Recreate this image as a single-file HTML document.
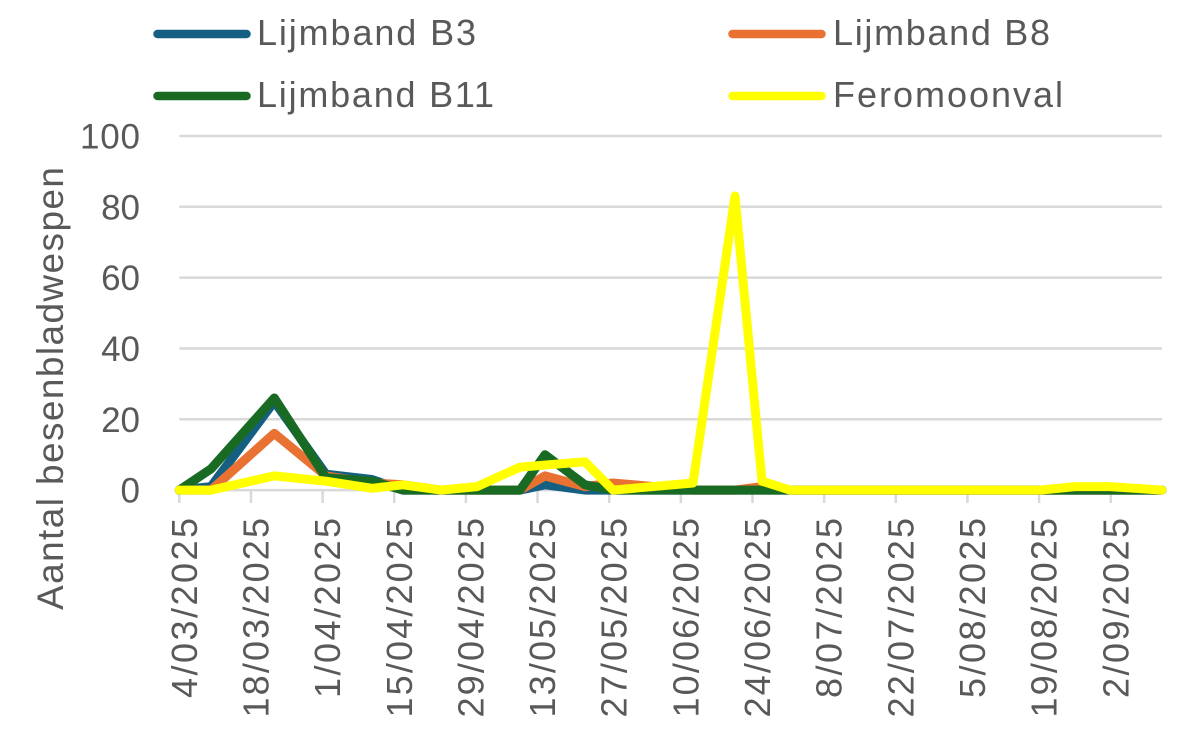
<!DOCTYPE html>
<html>
<head>
<meta charset="utf-8">
<style>
  html, body { margin:0; padding:0; background:#ffffff; }
  svg { display:block; }
  text { font-family: "Liberation Sans", "DejaVu Sans", sans-serif; fill:#595959; }
</style>
</head>
<body>
<svg width="1186" height="733" viewBox="0 0 1186 733" xmlns="http://www.w3.org/2000/svg">
  <rect x="0" y="0" width="1186" height="733" fill="#ffffff"/>

  <!-- Legend -->
  <g stroke-width="8.5" stroke-linecap="round">
    <line x1="157.5" y1="34" x2="246.5" y2="34" stroke="#156082"/>
    <line x1="732.5" y1="34" x2="821.5" y2="34" stroke="#E97132"/>
    <line x1="157.5" y1="96" x2="246.5" y2="96" stroke="#196B24"/>
    <line x1="732.5" y1="96" x2="821.5" y2="96" stroke="#FFFF00"/>
  </g>
  <g font-size="36">
    <text x="257" y="45" textLength="219" lengthAdjust="spacing">Lijmband B3</text>
    <text x="833" y="45" textLength="217" lengthAdjust="spacing">Lijmband B8</text>
    <text x="257" y="107" textLength="237" lengthAdjust="spacing">Lijmband B11</text>
    <text x="833" y="107" textLength="230" lengthAdjust="spacing">Feromoonval</text>
  </g>

  <!-- Gridlines -->
  <g stroke="#D9D9D9" stroke-width="2.5">
    <line x1="179.3" y1="136.0" x2="1162" y2="136.0"/>
    <line x1="179.3" y1="206.8" x2="1162" y2="206.8"/>
    <line x1="179.3" y1="277.6" x2="1162" y2="277.6"/>
    <line x1="179.3" y1="348.5" x2="1162" y2="348.5"/>
    <line x1="179.3" y1="419.3" x2="1162" y2="419.3"/>
    <line x1="179.3" y1="490.1" x2="1162" y2="490.1"/>
    <!-- ticks -->
    <line x1="179.3" y1="490" x2="179.3" y2="503"/>
    <line x1="250.95" y1="490" x2="250.95" y2="503"/>
    <line x1="322.6" y1="490" x2="322.6" y2="503"/>
    <line x1="394.25" y1="490" x2="394.25" y2="503"/>
    <line x1="465.9" y1="490" x2="465.9" y2="503"/>
    <line x1="537.55" y1="490" x2="537.55" y2="503"/>
    <line x1="609.2" y1="490" x2="609.2" y2="503"/>
    <line x1="680.85" y1="490" x2="680.85" y2="503"/>
    <line x1="752.5" y1="490" x2="752.5" y2="503"/>
    <line x1="824.15" y1="490" x2="824.15" y2="503"/>
    <line x1="895.8" y1="490" x2="895.8" y2="503"/>
    <line x1="967.45" y1="490" x2="967.45" y2="503"/>
    <line x1="1039.1" y1="490" x2="1039.1" y2="503"/>
    <line x1="1110.75" y1="490" x2="1110.75" y2="503"/>
  </g>

  <!-- Y tick labels -->
  <g font-size="35" text-anchor="end">
    <text x="140" y="148.5" textLength="60" lengthAdjust="spacing">100</text>
    <text x="140" y="219.3">80</text>
    <text x="140" y="290.1">60</text>
    <text x="140" y="361">40</text>
    <text x="140" y="431.8">20</text>
    <text x="140" y="502.6">0</text>
  </g>

  <!-- Y axis title -->
  <text font-size="37" text-anchor="middle" transform="translate(63,388.5) rotate(-90)" textLength="443" lengthAdjust="spacing">Aantal besenbladwespen</text>

  <!-- X tick labels -->
  <g font-size="36" text-anchor="end">
    <text transform="translate(196.8,518) rotate(-90)" textLength="180" lengthAdjust="spacing">4/03/2025</text>
    <text transform="translate(268.45,518) rotate(-90)" textLength="199.5" lengthAdjust="spacing">18/03/2025</text>
    <text transform="translate(340.1,518) rotate(-90)" textLength="180" lengthAdjust="spacing">1/04/2025</text>
    <text transform="translate(411.75,518) rotate(-90)" textLength="199.5" lengthAdjust="spacing">15/04/2025</text>
    <text transform="translate(483.4,518) rotate(-90)" textLength="199.5" lengthAdjust="spacing">29/04/2025</text>
    <text transform="translate(555.05,518) rotate(-90)" textLength="199.5" lengthAdjust="spacing">13/05/2025</text>
    <text transform="translate(626.7,518) rotate(-90)" textLength="199.5" lengthAdjust="spacing">27/05/2025</text>
    <text transform="translate(698.35,518) rotate(-90)" textLength="199.5" lengthAdjust="spacing">10/06/2025</text>
    <text transform="translate(770,518) rotate(-90)" textLength="199.5" lengthAdjust="spacing">24/06/2025</text>
    <text transform="translate(841.65,518) rotate(-90)" textLength="180" lengthAdjust="spacing">8/07/2025</text>
    <text transform="translate(913.3,518) rotate(-90)" textLength="199.5" lengthAdjust="spacing">22/07/2025</text>
    <text transform="translate(984.95,518) rotate(-90)" textLength="180" lengthAdjust="spacing">5/08/2025</text>
    <text transform="translate(1056.6,518) rotate(-90)" textLength="199.5" lengthAdjust="spacing">19/08/2025</text>
    <text transform="translate(1128.25,518) rotate(-90)" textLength="180" lengthAdjust="spacing">2/09/2025</text>
  </g>

  <!-- Series -->
  <g fill="none" stroke-width="9" stroke-linecap="round" stroke-linejoin="round">
    <!-- Lijmband B3 -->
    <polyline stroke="#156082" points="179.3,490.1 211,486.6 274.3,401.6 326,474.2 372,479.5 403,490.1 520,490.1 545,484.8 585,490.1 1162,490.1"/>
    <!-- Lijmband B8 -->
    <polyline stroke="#E97132" points="179.3,490.1 211,490.1 274.3,433.4 326,475.9 372,483.0 403,484.8 441,490.1 520,490.1 545,475.9 585,486.6 613,483.0 693,490.1 735,490.1 762,486.6 790,490.1 1162,490.1"/>
    <!-- Lijmband B11 -->
    <polyline stroke="#196B24" points="179.3,490.1 211,468.9 274.3,398.0 326,477.7 372,481.2 403,490.1 520,490.1 545,454.7 585,484.8 613,490.1 1162,490.1"/>
    <!-- Feromoonval -->
    <polyline stroke="#FFFF00" points="179.3,490.1 211,490.1 274.3,475.9 326,481.2 372,488.3 403,484.8 441,490.1 477,486.6 520,467.1 585,461.8 613,490.1 693,483.0 735,196 762,481.2 790,490.1 1040,490.1 1075,486.6 1110,486.6 1162,490.1"/>
  </g>
</svg>
</body>
</html>
